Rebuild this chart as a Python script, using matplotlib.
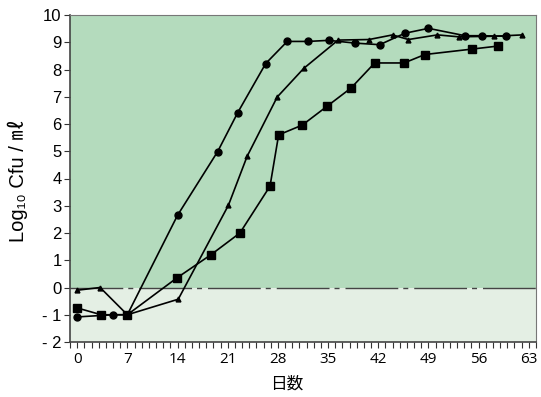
import matplotlib
matplotlib.use('Agg')
import matplotlib.pyplot as plt
from matplotlib.ticker import MultipleLocator, FixedLocator

# circle series
days_a = [0, 5, 7, 14, 19.6, 22.4, 26.3, 29.3, 32.2, 35.1, 38.7, 42.2, 45.7, 49.0, 54.1, 56.4, 59.8]
log_a = [-1.08, -1.0, -1.0, 2.65, 4.99, 6.42, 8.22, 9.03, 9.03, 9.07, 8.97, 8.91, 9.33, 9.51, 9.24, 9.24, 9.22]

# triangle series
days_b = [0, 3.2, 7, 14.1, 21.1, 23.7, 27.9, 31.6, 36.4, 40.7, 44.0, 46.2, 50.25, 53.2, 58.2, 62.1]
log_b = [-0.1, 0.0, -1.0, -0.43, 3.02, 4.81, 6.99, 8.04, 9.08, 9.1, 9.27, 9.1, 9.27, 9.2, 9.22, 9.27]

# square series
days_c = [0, 3.35, 7, 13.9, 18.7, 22.7, 26.9, 28.1, 31.4, 34.9, 38.2, 41.5, 45.6, 48.5, 55.1, 58.7]
log_c = [-0.75, -1.0, -1.0, 0.35, 1.21, 2.0, 3.72, 5.6, 5.96, 6.66, 7.32, 8.24, 8.24, 8.55, 8.75, 8.86]

x_ticks = [0, 7, 14, 21, 28, 35, 42, 49, 56, 63]
y_ticks = list(range(-2, 11))
y_labels = ['- 2', '- 1'] + [str(v) for v in range(0, 11)]

fig = plt.figure(figsize=(5.41, 3.97), dpi=100)
ax = fig.add_axes([70/541, 1-342/397, 466/541, 327/397])

ax.set_xlim(-1, 64)
ax.set_ylim(-2, 10)
ax.axhspan(0, 10, color='#b4dbbd', zorder=0, lw=0)
ax.axhspan(-2, 0, color='#e4efe4', zorder=0, lw=0)
ax.axhline(0, color='#444444', lw=1, dashes=(38, 3.6, 3.6, 4.3), zorder=1)

ax.plot(days_a, log_a, color='black', lw=1.2, marker='o', ms=5, zorder=3)
ax.plot(days_b, log_b, color='black', lw=1.2, marker='^', ms=3.5, zorder=3)
ax.plot(days_c, log_c, color='black', lw=1.2, marker='s', ms=5.2, zorder=3)

ax.xaxis.set_major_locator(FixedLocator(x_ticks))
ax.xaxis.set_minor_locator(MultipleLocator(1))
ax.yaxis.set_major_locator(FixedLocator(y_ticks))
ax.set_yticklabels(y_labels, fontfamily='Liberation Sans', fontsize=12)
ax.set_xticklabels([str(v) for v in x_ticks], fontfamily='Open Sans', fontsize=11)
ax.tick_params(axis='x', which='both', direction='out', length=4, width=0.8, color='#333333', pad=3)
ax.tick_params(axis='y', which='major', direction='out', length=4, width=0.8, color='#333333', pad=2)

for side in ['top', 'right']:
    ax.spines[side].set_color('#777777')
for side in ['left', 'bottom']:
    ax.spines[side].set_color('#444444')
    ax.spines[side].set_linewidth(1.2)

ax.set_ylabel('Log₁₀ Cfu / ㎖', fontsize=14.5,
              family=['Liberation Sans', 'DejaVu Sans', 'Noto Sans CJK JP'])
ax.yaxis.set_label_coords(-(70-28)/466, (342-181)/327)
ax.set_xlabel('日数', fontsize=12, family=['Noto Sans CJK JP'])
ax.xaxis.set_label_coords((287-70)/466, -(376-342)/327)

fig.savefig('out.png', dpi=100)
